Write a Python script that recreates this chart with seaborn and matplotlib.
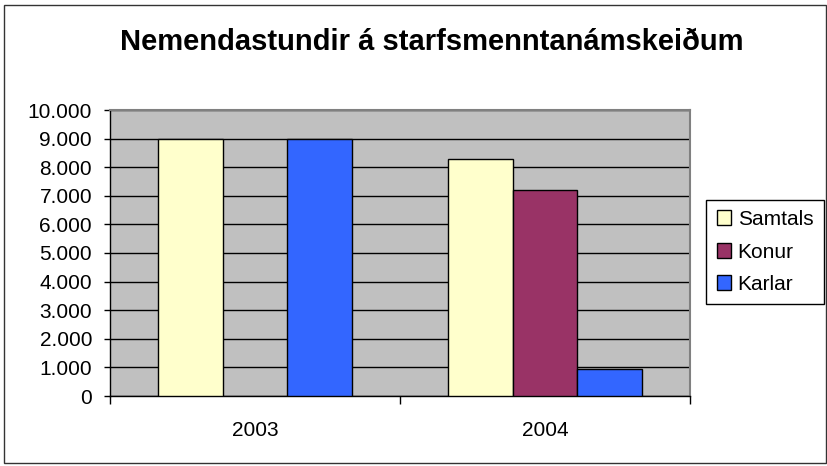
import pandas as pd
import seaborn as sns
import matplotlib.pyplot as plt
from matplotlib.ticker import FuncFormatter, FixedLocator
from matplotlib.patches import Rectangle

# Gögn lesin af myndinni
years = ["2003", "2004"]
series = ["Samtals", "Konur", "Karlar"]
samtals = [9000, 8280]
konur = [None, 7220]
karlar = [9000, 950]
colors = ["#FFFFCC", "#993366", "#3366FF"]

rows = []
for i, y in enumerate(years):
    rows.append((y, "Samtals", samtals[i]))
    rows.append((y, "Konur", konur[i]))
    rows.append((y, "Karlar", karlar[i]))
df = pd.DataFrame(rows, columns=["ar", "hopur", "stundir"])

sns.set_style("white")
plt.rcParams["font.family"] = ["Liberation Sans", "DejaVu Sans"]
plt.rcParams["text.color"] = "black"
plt.rcParams["xtick.color"] = "black"
plt.rcParams["ytick.color"] = "black"

fig = plt.figure(figsize=(8.28, 4.66), dpi=100)
ax = fig.add_axes([110 / 828, 1 - 396 / 466, 580 / 828, 286 / 466])

sns.barplot(data=df, x="ar", y="stundir", hue="hopur", order=years,
            hue_order=series, palette=colors, width=0.667, errorbar=None,
            edgecolor="black", linewidth=1, saturation=1, ax=ax, zorder=3)

ax.set_facecolor("#C0C0C0")
ax.set_ylim(0, 10000)
ax.set_xlim(-0.5, 1.5)
ax.set_yticks(range(0, 10001, 1000))
ax.yaxis.set_major_formatter(FuncFormatter(lambda v, p: f"{int(v):,}".replace(",", ".")))
ax.yaxis.grid(True, color="black", linewidth=1)
ax.set_axisbelow(True)
ax.set_xlabel("")
ax.set_ylabel("")

ax.tick_params(axis="y", left=True, length=4.3, width=1, color="black", pad=8.6, labelsize=15)
ax.tick_params(axis="x", which="major", length=0, pad=18, labelsize=15)
ax.xaxis.set_minor_locator(FixedLocator([-0.5, 0.5, 1.5]))
ax.tick_params(axis="x", which="minor", bottom=True, length=6, width=1, color="black")

for s in ["left", "bottom"]:
    ax.spines[s].set_color("black")
    ax.spines[s].set_linewidth(1)
for s in ["top", "right"]:
    ax.spines[s].set_color("#808080")
    ax.spines[s].set_linewidth(1.5)

ax.legend_.remove()
handles, labels = ax.get_legend_handles_labels()
fig.legend(handles, labels, loc="center", bbox_to_anchor=(765 / 828, 1 - 252 / 466),
           fontsize=15, frameon=True, fancybox=False, edgecolor="black",
           framealpha=1, handlelength=0.7, handleheight=0.7, handletextpad=0.3,
           labelspacing=0.65, borderpad=0.5, borderaxespad=0)

fig.text(432 / 828, 1 - 42 / 466, "Nemendastundir á starfsmenntanámskeiðum",
         ha="center", va="center", fontsize=21, fontweight="bold", color="black")

fig.patches.append(Rectangle((4 / 828, 3 / 466), 822 / 828, 458 / 466,
                             transform=fig.transFigure, fill=False,
                             edgecolor="#333333", linewidth=1))

fig.savefig("out.png", dpi=100)
